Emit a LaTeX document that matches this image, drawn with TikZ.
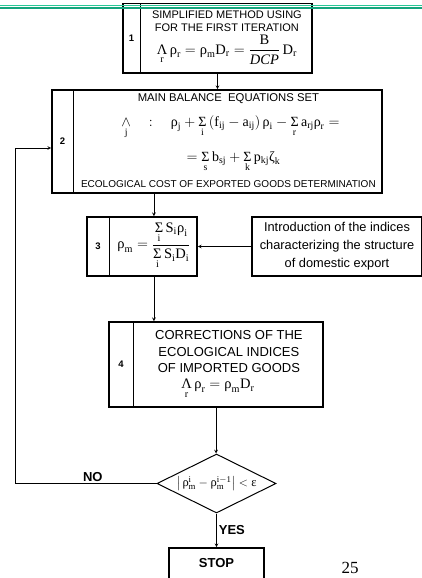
\documentclass[tikz,border=0pt]{standalone}
\usepackage{amsmath}
\usepackage{fontspec}
\setmainfont{Liberation Sans}
\setmathrm{Liberation Serif}
\newfontfamily\grk{Liberation Serif}
\usetikzlibrary{shapes.geometric,calc,positioning}
\definecolor{rulea}{RGB}{40,200,150}
\definecolor{ruleb}{RGB}{20,165,125}
\newcommand{\gr}[1]{\text{\grk #1}}
\newcommand{\ro}[1]{\mathrm{#1}}
\newcommand{\sm}[1]{\underset{\ro{#1}}{\gr{Σ}}}
\begin{document}
\begin{tikzpicture}[x=1pt,y=-1pt,>=stealth,
    box/.style={draw,line width=1.6pt,inner sep=0pt},
    numbox/.style={draw,line width=0.8pt,inner sep=0pt,anchor=north west,font=\bfseries\fontsize{9.5}{10}\selectfont},
    caps/.style={font=\fontsize{11}{12}\selectfont},
    eq/.style={font=\fontsize{14.5}{16}\selectfont},
    tag/.style={font=\bfseries\fontsize{13}{14}\selectfont},
    flow/.style={->,line width=0.7pt}]
    \useasboundingbox (0,0) rectangle (422,578);
    \clip (0,0) rectangle (422,578);
    % bloc 1
    \node[box,minimum width=189pt,minimum height=69.5pt] (b1) at (217.5,38.25) {};
    \node[numbox,minimum width=18pt,minimum height=69.5pt] (n1) at (b1.north west) {1};
    \coordinate (c1) at ($(n1.north east)!0.5!(b1.north east)$);
    \node[caps] (t1a) at ($(c1)+(0,12)$) {SIMPLIFIED METHOD USING};
    \node[caps] (t1b) at ($(c1)+(0,25)$) {FOR THE FIRST ITERATION};
    \node[eq] (e1) at ($(c1)+(0,47)$) {$\underset{\ro r}{\gr{Λ}}\,\gr{ρ}_{\ro r}=\gr{ρ}_{\ro m}\ro D_{\ro r}=\dfrac{\ro B}{\text{\grk\itshape DCP}}\,\ro D_{\ro r}$};
    % bloc 2
    \node[box,minimum width=330pt,minimum height=103pt] (b2) at (217,141.5) {};
    \node[numbox,minimum width=22pt,minimum height=103pt] (n2) at (b2.north west) {2};
    \coordinate (c2) at ($(n2.north east)!0.5!(b2.north east)$);
    \node[caps,font=\fontsize{11.3}{12}\selectfont] (t2a) at ($(c2)+(0,9)$) {MAIN BALANCE\ \ EQUATIONS SET};
    \node[eq,font=\fontsize{14}{16}\selectfont] (e2a) at ($(c2)+(2,38)$) {$\underset{\ro j}{\wedge}\quad:\quad\gr{ρ}_{\ro j}+\sm{i}\left(\ro f_{\ro{ij}}-\ro a_{\ro{ij}}\right)\gr{ρ}_{\ro i}-\sm{r}\,\ro a_{\ro{rj}}\gr{ρ}_{\ro r}=$};
    \node[eq,font=\fontsize{14}{16}\selectfont] (e2b) at ($(c2)+(5,73)$) {$=\sm{s}\,\ro b_{\ro{sj}}+\sm{k}\,\ro p_{\ro{kj}}\gr{ζ}_{\ro k}$};
    \node[caps,font=\fontsize{10}{11}\selectfont] (t2b) at ($(c2)+(0,95)$) {ECOLOGICAL COST OF EXPORTED GOODS DETERMINATION};
    % bloc 3 et indices
    \node[box,minimum width=110pt,minimum height=59pt] (b3) at (142,246.5) {};
    \node[numbox,minimum width=23pt,minimum height=59pt] (n3) at (b3.north west) {3};
    \coordinate (c3) at ($(n3.east)!0.5!(b3.east)$);
    \node[eq,font=\fontsize{14.5}{16}\selectfont] (e3) at (c3) {$\gr{ρ}_{\ro m}=\dfrac{\sm{i}\,\ro S_{\ro i}\gr{ρ}_{\ro i}\rule[-2pt]{0pt}{2pt}}{\sm{i}\,\ro S_{\ro i}\ro D_{\ro i}}$};
    \node[box,minimum width=170pt,minimum height=59pt,align=center,font=\fontsize{12.8}{18}\selectfont] (intro) at (337,246.5)
        {Introduction of the indices\\characterizing the structure\\of domestic export};
    % bloc 4
    \node[box,minimum width=214pt,minimum height=85pt] (b4) at (216,364.5) {};
    \node[numbox,minimum width=25pt,minimum height=85pt] (n4) at (b4.north west) {4};
    \coordinate (c4) at ($(n4.north east)!0.5!(b4.north east)$);
    \node[caps,font=\fontsize{13}{13}\selectfont] (t4a) at ($(c4)+(0,14)$) {CORRECTIONS OF THE};
    \node[caps,font=\fontsize{13}{13}\selectfont] (t4b) at ($(c4)+(0,31)$) {ECOLOGICAL INDICES};
    \node[caps,font=\fontsize{13}{13}\selectfont] (t4c) at ($(c4)+(0,47)$) {OF IMPORTED GOODS};
    \node[eq] (e4) at ($(c4)+(-11,68)$) {$\underset{\ro r}{\gr{Λ}}\,\gr{ρ}_{\ro r}=\gr{ρ}_{\ro m}\ro D_{\ro r}$};
    % test et fin
    \node[draw,diamond,aspect=2,line width=1pt,inner sep=0pt,minimum width=119pt,minimum height=59pt,font=\fontsize{12.5}{14}\selectfont] (dec) at (216.5,483.5)
        {$\left|\,\gr{ρ}^{\ro i}_{\ro m}-\gr{ρ}^{\ro{i-1}}_{\ro m}\right|<\gr{ε}$};
    \node[box,minimum width=95pt,minimum height=31pt,tag] (stop) at (216.5,563.5) {STOP};
    \node[font=\grk\fontsize{17}{17}\selectfont] (pg) at (350,568) {25};
    \coordinate (back) at (15,148);
    % fleches
    \draw[flow] (b1.south) -- (b1.south |- b2.north);
    \draw[flow] (c3 |- b2.south) -- (c3 |- b3.north);
    \draw[flow] (intro.west) -- (b3.east);
    \draw[flow] (c3 |- b3.south) -- (c3 |- b4.north);
    \draw[flow] (b4.south) -- (b4.south |- dec.north);
    \draw[flow] (dec.south) -- node[right,tag,inner sep=2pt] (yes) {YES} (stop.north);
    \draw[flow] (dec.west) -- node[pos=0.45,above,tag,inner sep=2pt] (no) {NO} (dec.west -| back) -- (back) -- (back -| b2.west);
    % filet du haut
    \draw[rulea,line width=1pt] (0,5.5) -- (422,5.5);
    \draw[ruleb,line width=1.2pt] (0,8) -- (422,8);
\end{tikzpicture}
\end{document}
